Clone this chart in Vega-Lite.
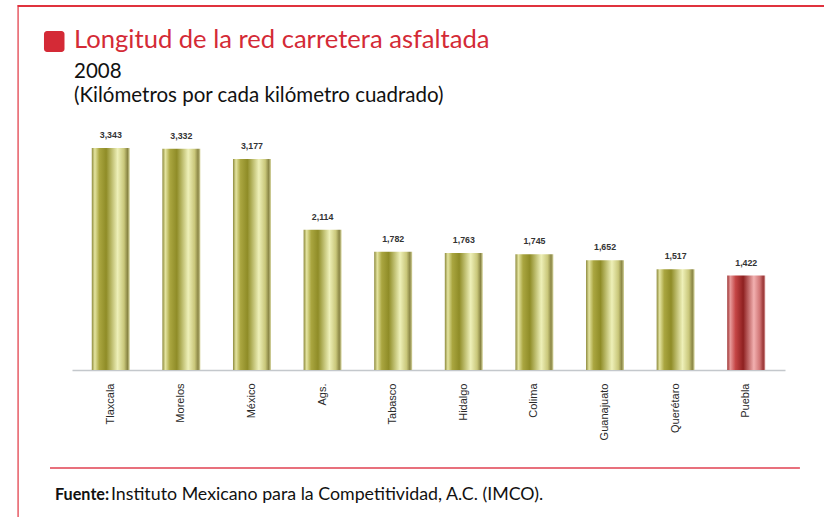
{
  "$schema": "https://vega.github.io/schema/vega-lite/v6.json",
  "width": 713,
  "height": 250,
  "autosize": {"type": "none"},
  "padding": {"left": 72, "top": 120, "right": 39, "bottom": 147},
  "background": "white",
  "config": {"view": {"stroke": null}, "font": "Lato"},
  "title": {
    "text": "Longitud de la red carretera asfaltada",
    "anchor": "start",
    "frame": "group",
    "dx": 2,
    "offset": -102,
    "font": "Lato",
    "fontSize": 25.6,
    "fontWeight": "normal",
    "color": "#d42a36",
    "subtitle": ["2008", "(Kilómetros por cada kilómetro cuadrado)"],
    "subtitleFont": "Lato",
    "subtitleFontSize": 20.5,
    "subtitleColor": "#111111",
    "subtitleLineHeight": 24,
    "subtitlePadding": 8
  },
  "data": {
    "values": [
      {"estado": "Tlaxcala", "valor": 3343},
      {"estado": "Morelos", "valor": 3332},
      {"estado": "México", "valor": 3177},
      {"estado": "Ags.", "valor": 2114},
      {"estado": "Tabasco", "valor": 1782},
      {"estado": "Hidalgo", "valor": 1763},
      {"estado": "Colima", "valor": 1745},
      {"estado": "Guanajuato", "valor": 1652},
      {"estado": "Querétaro", "valor": 1517},
      {"estado": "Puebla", "valor": 1422}
    ]
  },
  "layer": [
    {
      "mark": {"type": "bar"},
      "encoding": {
        "x": {
          "field": "estado",
          "type": "nominal",
          "sort": null,
          "scale": {
            "domain": ["Tlaxcala", "Morelos", "México", "Ags.", "Tabasco", "Hidalgo", "Colima", "Guanajuato", "Querétaro", "Puebla"],
            "paddingInner": 0.462,
            "paddingOuter": 0.28,
            "align": 0.5
          },
          "axis": {
            "title": null,
            "labelAngle": -90,
            "labelFont": "Liberation Sans",
            "labelFontSize": 11,
            "labelColor": "#2a2a2a",
            "labelPadding": 13,
            "ticks": false,
            "domainColor": "#c4c8cc",
            "domainWidth": 1.5,
            "grid": false
          }
        },
        "y": {
          "field": "valor",
          "type": "quantitative",
          "scale": {"domain": [0, 3765], "nice": false, "zero": false},
          "axis": null
        },
        "fill": {
          "condition": {
            "test": "datum.estado === 'Puebla'",
            "value": {
              "gradient": "linear", "x1": 0, "x2": 1, "y1": 0, "y2": 0,
              "stops": [
                {"offset": 0, "color": "#9b2e2e"},
                {"offset": 0.08, "color": "#e89a9a"},
                {"offset": 0.22, "color": "#c44545"},
                {"offset": 0.42, "color": "#8e2020"},
                {"offset": 0.7, "color": "#f2b0b0"},
                {"offset": 0.86, "color": "#d07575"},
                {"offset": 0.95, "color": "#9a3535"},
                {"offset": 1, "color": "#d89a9a"}
              ]
            }
          },
          "value": {
            "gradient": "linear", "x1": 0, "x2": 1, "y1": 0, "y2": 0,
            "stops": [
              {"offset": 0, "color": "#8d8a3c"},
              {"offset": 0.08, "color": "#e4e4a0"},
              {"offset": 0.2, "color": "#aaa640"},
              {"offset": 0.38, "color": "#8f8c27"},
              {"offset": 0.68, "color": "#eef0b8"},
              {"offset": 0.85, "color": "#c9c77a"},
              {"offset": 0.94, "color": "#8a8645"},
              {"offset": 1, "color": "#d8d7a0"}
            ]
          }
        }
      }
    },
    {
      "mark": {
        "type": "text",
        "baseline": "alphabetic",
        "dy": -10,
        "font": "Liberation Sans",
        "fontSize": 8.8,
        "fontWeight": "bold",
        "color": "#333333"
      },
      "encoding": {
        "x": {"field": "estado", "type": "nominal", "sort": null},
        "y": {"field": "valor", "type": "quantitative"},
        "text": {"field": "valor", "type": "quantitative", "format": ","}
      }
    },
    {
      "data": {"values": [{}]},
      "mark": {"type": "rect", "color": "#d42a36", "cornerRadius": 3},
      "encoding": {
        "x": {"datum": "Tlaxcala", "type": "nominal", "bandPosition": -1.258},
        "x2": {"datum": "Tlaxcala", "bandPosition": -0.718},
        "y": {"datum": 5105, "type": "quantitative"},
        "y2": {"datum": 4789}
      }
    },
    {
      "data": {"values": [{}]},
      "mark": {"type": "rule", "color": "#e0323e", "strokeWidth": 2},
      "encoding": {
        "x": {"datum": "Tlaxcala", "type": "nominal", "bandPosition": -1.95},
        "x2": {"datum": "Puebla", "bandPosition": 2.7},
        "y": {"datum": 5481, "type": "quantitative"}
      }
    },
    {
      "data": {"values": [{}]},
      "mark": {"type": "rule", "color": "#e0323e", "strokeWidth": 1.2},
      "encoding": {
        "x": {"datum": "Tlaxcala", "type": "nominal", "bandPosition": -1.94},
        "y": {"datum": 5496, "type": "quantitative"},
        "y2": {"datum": -2400}
      }
    },
    {
      "data": {"values": [{}]},
      "mark": {"type": "rule", "color": "#e04050", "strokeWidth": 1.5},
      "encoding": {
        "x": {"datum": "Tlaxcala", "type": "nominal", "bandPosition": -1.1},
        "x2": {"datum": "Puebla", "bandPosition": 1.913},
        "y": {"datum": -1476, "type": "quantitative"}
      }
    },
    {
      "data": {"values": [{}]},
      "mark": {"type": "text", "text": "Fuente:", "align": "left", "baseline": "alphabetic", "font": "Lato", "fontSize": 16.2, "fontWeight": "bold", "color": "#111111"},
      "encoding": {
        "x": {"datum": "Tlaxcala", "type": "nominal", "bandPosition": -0.968},
        "y": {"datum": -1958, "type": "quantitative"}
      }
    },
    {
      "data": {"values": [{}]},
      "mark": {"type": "text", "text": "Instituto Mexicano para la Competitividad, A.C. (IMCO).", "align": "left", "baseline": "alphabetic", "font": "Lato", "fontSize": 17.8, "fontWeight": "normal", "color": "#111111"},
      "encoding": {
        "x": {"datum": "Tlaxcala", "type": "nominal", "bandPosition": 0.505},
        "y": {"datum": -1958, "type": "quantitative"}
      }
    }
  ]
}
